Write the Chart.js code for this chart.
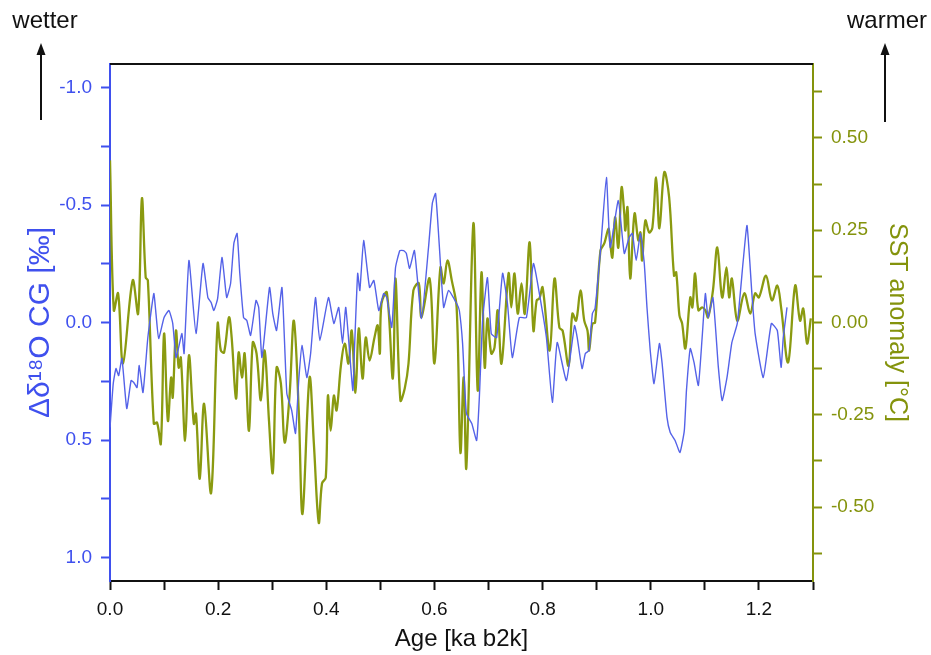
<!DOCTYPE html>
<html>
<head>
<meta charset="utf-8">
<script src="https://cdn.jsdelivr.net/npm/chart.js@4/dist/chart.umd.min.js"></script>
<style>
  html, body { margin: 0; padding: 0; background: #fff; }
  #wrap { width: 931px; height: 655px; position: relative; }
</style>
</head>
<body>
<div id="wrap"><canvas id="chart"></canvas></div>
<script>
// Δδ18O CG record (left axis, reversed)
const ageD18O = [0.000,0.006,0.011,0.016,0.022,0.031,0.039,0.044,0.050,0.054,0.061,0.070,0.081,0.085,0.090,0.100,
  0.109,0.116,0.122,0.127,0.133,0.137,0.146,0.159,0.172,0.181,0.187,0.192,0.199,0.207,0.214,0.216,0.223,0.229,
  0.235,0.240,0.247,0.253,0.260,0.270,0.275,0.281,0.295,0.301,0.308,0.318,0.327,0.336,0.343,0.349,0.355,0.364,
  0.371,0.380,0.388,0.404,0.414,0.423,0.430,0.436,0.449,0.452,0.458,0.462,0.469,0.480,0.488,0.497,0.506,0.512,
  0.521,0.528,0.536,0.543,0.548,0.554,0.563,0.576,0.589,0.596,0.602,0.608,0.617,0.626,0.641,0.646,0.652,0.659,
  0.669,0.678,0.683,0.689,0.698,0.705,0.715,0.726,0.735,0.744,0.757,0.770,0.783,0.794,0.807,0.818,0.827,0.844,
  0.859,0.864,0.873,0.879,0.886,0.892,0.897,0.907,0.918,0.925,0.940,0.951,0.960,0.966,0.973,0.981,0.988,0.993,
  0.999,1.006,1.016,1.021,1.030,1.036,1.045,1.054,1.062,1.066,1.073,1.080,1.088,1.095,1.101,1.106,1.115,1.125,
  1.132,1.141,1.150,1.160,1.171,1.178,1.187,1.193,1.208,1.223,1.234,1.241,1.245,1.252];
const d18O = [0.447,0.260,0.196,0.226,0.153,0.366,0.247,0.255,0.277,0.183,0.298,0.064,-0.123,-0.038,0.068,-0.021,
  -0.051,0.004,0.149,0.106,0.047,0.132,-0.264,0.047,-0.251,-0.106,-0.085,-0.051,-0.102,-0.277,-0.136,-0.106,-0.166,-0.336,
  -0.379,-0.209,-0.021,-0.009,0.055,-0.094,-0.064,0.149,-0.149,-0.038,0.034,-0.149,0.302,0.374,0.472,0.247,0.098,0.234,
  0.132,-0.106,0.077,-0.106,0.004,-0.064,0.089,-0.064,0.289,0.119,-0.209,-0.136,-0.349,-0.149,-0.179,-0.051,-0.123,-0.106,
  0.021,-0.234,-0.306,-0.306,-0.294,-0.230,-0.306,-0.017,-0.319,-0.506,-0.549,-0.362,-0.064,-0.136,-0.081,-0.051,0.089,0.387,
  0.430,0.502,0.319,-0.009,-0.191,0.047,0.064,-0.209,-0.081,0.149,-0.021,-0.021,-0.251,-0.123,0.064,0.340,0.085,0.247,
  0.013,0.064,0.196,0.132,0.119,-0.038,-0.060,-0.306,-0.617,-0.319,-0.519,-0.294,-0.362,-0.379,-0.264,-0.379,-0.251,-0.064,
  0.119,0.260,0.089,0.174,0.404,0.468,0.502,0.553,0.460,0.289,0.111,0.170,0.268,0.064,-0.123,-0.021,-0.106,0.191,
  0.332,0.234,0.085,0.004,-0.264,-0.413,-0.123,0.047,0.234,0.004,0.034,0.191,0.064,-0.064];

// SST anomaly (right axis)
const ageSST = [0.000,0.007,0.015,0.024,0.042,0.052,0.059,0.066,0.070,0.081,0.087,0.094,0.100,0.107,0.113,0.116,
  0.122,0.127,0.131,0.139,0.146,0.155,0.159,0.166,0.174,0.187,0.199,0.205,0.211,0.220,0.225,0.233,0.238,0.244,
  0.249,0.257,0.264,0.271,0.279,0.286,0.294,0.301,0.308,0.316,0.323,0.332,0.340,0.349,0.356,0.369,0.377,0.386,
  0.392,0.399,0.403,0.408,0.414,0.419,0.427,0.434,0.441,0.447,0.454,0.460,0.467,0.473,0.480,0.489,0.495,0.499,
  0.502,0.512,0.523,0.528,0.537,0.545,0.552,0.561,0.571,0.576,0.591,0.600,0.611,0.617,0.624,0.632,0.641,0.648,
  0.654,0.659,0.672,0.680,0.687,0.693,0.698,0.705,0.711,0.717,0.724,0.737,0.742,0.748,0.754,0.761,0.767,0.776,
  0.783,0.789,0.794,0.800,0.813,0.822,0.831,0.837,0.848,0.855,0.862,0.870,0.877,0.883,0.886,0.892,0.897,0.907,
  0.914,0.922,0.925,0.929,0.934,0.940,0.946,0.951,0.953,0.957,0.962,0.970,0.977,0.981,0.984,0.990,0.997,1.003,
  1.010,1.016,1.025,1.034,1.043,1.047,1.053,1.058,1.064,1.073,1.077,1.082,1.088,1.095,1.101,1.106,1.115,1.123,
  1.132,1.140,1.145,1.150,1.160,1.173,1.184,1.193,1.200,1.213,1.224,1.234,1.241,1.254,1.267,1.276,1.282,1.289,1.296];
const sst = [0.439,0.033,0.079,-0.111,0.114,0.024,0.336,0.122,0.114,-0.274,-0.271,-0.328,-0.030,-0.266,-0.149,-0.203,
  -0.022,-0.122,-0.095,-0.320,-0.089,-0.274,-0.247,-0.423,-0.220,-0.461,-0.003,-0.076,-0.081,0.014,-0.041,-0.206,-0.081,-0.149,
  -0.084,-0.293,-0.054,-0.084,-0.211,-0.076,-0.266,-0.407,-0.122,-0.165,-0.325,-0.198,0.005,-0.238,-0.518,-0.149,-0.328,-0.542,
  -0.436,-0.420,-0.198,-0.293,-0.198,-0.238,-0.117,-0.057,-0.111,-0.022,-0.190,-0.016,-0.152,-0.041,-0.103,-0.041,-0.008,-0.084,
  0.051,0.081,-0.152,0.119,-0.211,-0.179,-0.111,0.087,0.106,0.014,0.119,-0.111,0.149,0.106,0.168,0.114,0.041,-0.352,
  -0.149,-0.393,0.268,-0.184,0.136,-0.122,0.011,-0.084,-0.068,0.033,-0.111,0.133,0.041,0.133,0.024,0.106,0.024,0.217,
  -0.022,0.060,0.065,0.095,-0.076,0.119,-0.014,-0.022,-0.117,0.024,0.005,0.087,0.005,-0.022,-0.076,-0.003,0.000,0.195,
  0.214,0.255,0.214,0.176,0.285,0.203,0.366,0.295,0.249,0.312,0.119,0.295,0.222,0.244,0.168,0.276,0.244,0.257,
  0.393,0.255,0.407,0.339,0.127,0.136,0.019,-0.003,-0.070,0.068,0.041,0.133,0.033,0.041,0.033,0.014,0.087,0.203,
  0.068,0.149,0.068,0.119,0.005,0.079,0.024,0.079,0.068,0.127,0.060,0.100,0.041,-0.108,0.100,0.005,0.038,-0.057,0.011];

// tick positions (major + minor)
const ageTicks = [0.0,0.1,0.2,0.3,0.4,0.5,0.6,0.7,0.8,0.9,1.0,1.1,1.2,1.3];
const d18OTicks = [-1.0,-0.75,-0.5,-0.25,0.0,0.25,0.5,0.75,1.0];
const sstTicks = [-0.625,-0.5,-0.375,-0.25,-0.125,0.0,0.125,0.25,0.375,0.5,0.625];

const BLUE = '#3f50ee';
const BLUE_LINE = '#5462e8';
const OLIVE = '#84930c';
const OLIVE_LINE = '#8a9a10';
const FONT = "'Liberation Sans', Arial, sans-serif";

function isMult(v, step) {
  return Math.abs(v / step - Math.round(v / step)) < 1e-6;
}

const framePlugin = {
  id: 'frame',
  afterDraw(chart) {
    const ctx = chart.ctx;
    const a = chart.chartArea;
    ctx.save();
    // top edge of the box
    ctx.strokeStyle = '#111';
    ctx.lineWidth = 2;
    ctx.beginPath();
    ctx.moveTo(a.left, a.top);
    ctx.lineTo(a.right, a.top);
    ctx.stroke();

    // "wetter" / "warmer" notes with arrows
    ctx.fillStyle = '#111';
    ctx.font = '24px ' + FONT;
    ctx.textAlign = 'center';
    ctx.textBaseline = 'alphabetic';
    ctx.fillText('wetter', 45, 28);
    ctx.fillText('warmer', 887, 28);
    [[41, 120], [885, 122]].forEach(([x, yb]) => {
      ctx.lineWidth = 2;
      ctx.beginPath();
      ctx.moveTo(x, yb);
      ctx.lineTo(x, 52);
      ctx.stroke();
      ctx.beginPath();
      ctx.moveTo(x, 43);
      ctx.lineTo(x - 4.5, 55);
      ctx.lineTo(x + 4.5, 55);
      ctx.closePath();
      ctx.fill();
    });
    ctx.restore();
  }
};

new Chart(document.getElementById('chart'), {
  type: 'line',
  data: {
    datasets: [{
      label: 'Δδ18O CG',
      data: ageD18O.map((a, i) => ({ x: a, y: d18O[i] })),
      yAxisID: 'y',
      borderColor: BLUE_LINE,
      borderWidth: 1.4,
      pointRadius: 0,
      tension: 0.15
    }, {
      label: 'SST anomaly',
      data: ageSST.map((a, i) => ({ x: a, y: sst[i] })),
      yAxisID: 'y2',
      borderColor: OLIVE_LINE,
      borderWidth: 2.3,
      pointRadius: 0,
      tension: 0.35
    }]
  },
  options: {
    responsive: true,
    maintainAspectRatio: false,
    animation: false,
    layout: { padding: { top: 64, left: 0, right: 0, bottom: 0 } },
    plugins: { legend: { display: false }, tooltip: { enabled: false } },
    scales: {
      x: {
        type: 'linear',
        min: 0, max: 1.3,
        afterBuildTicks: s => { s.ticks = ageTicks.map(v => ({ value: v })); },
        afterFit: s => { s.height = 74; },
        grid: { drawOnChartArea: false, tickLength: 9, tickColor: '#111', tickWidth: 2 },
        border: { color: '#111', width: 2 },
        ticks: {
          color: '#111', font: { family: FONT, size: 19 }, padding: 8, maxRotation: 0, autoSkip: false,
          callback: v => isMult(v, 0.2) ? v.toFixed(1) : ''
        },
        title: { display: true, text: 'Age [ka b2k]', color: '#111', font: { family: FONT, size: 24 }, padding: { top: 0, bottom: 1 } }
      },
      y: {
        type: 'linear',
        position: 'left',
        reverse: true,
        min: -1.1, max: 1.1,
        afterBuildTicks: s => { s.ticks = d18OTicks.map(v => ({ value: v })); },
        afterFit: s => { s.width = 110; },
        grid: { drawOnChartArea: false, tickLength: 9, tickColor: BLUE, tickWidth: 2 },
        border: { color: BLUE, width: 2 },
        ticks: {
          color: BLUE, font: { family: FONT, size: 19 }, padding: 9,
          callback: v => isMult(v, 0.5) ? v.toFixed(1) : ''
        },
        title: { display: true, text: 'Δδ¹⁸O CG [‰]', color: BLUE, font: { family: FONT, size: 30 }, padding: { top: 23, bottom: 0 } }
      },
      y2: {
        type: 'linear',
        position: 'right',
        min: -0.7, max: 0.7,
        afterBuildTicks: s => { s.ticks = sstTicks.map(v => ({ value: v })); },
        afterFit: s => { s.width = 118; },
        grid: { drawOnChartArea: false, tickLength: 9, tickColor: OLIVE, tickWidth: 2 },
        border: { color: OLIVE, width: 2 },
        ticks: {
          color: OLIVE, font: { family: FONT, size: 19 }, padding: 9,
          callback: v => isMult(v, 0.25) ? v.toFixed(2) : ''
        },
        title: { display: true, text: 'SST anomaly [°C]', color: OLIVE, font: { family: FONT, size: 25 }, padding: { top: 19, bottom: 0 } }
      }
    }
  },
  plugins: [framePlugin]
});
</script>
</body>
</html>
